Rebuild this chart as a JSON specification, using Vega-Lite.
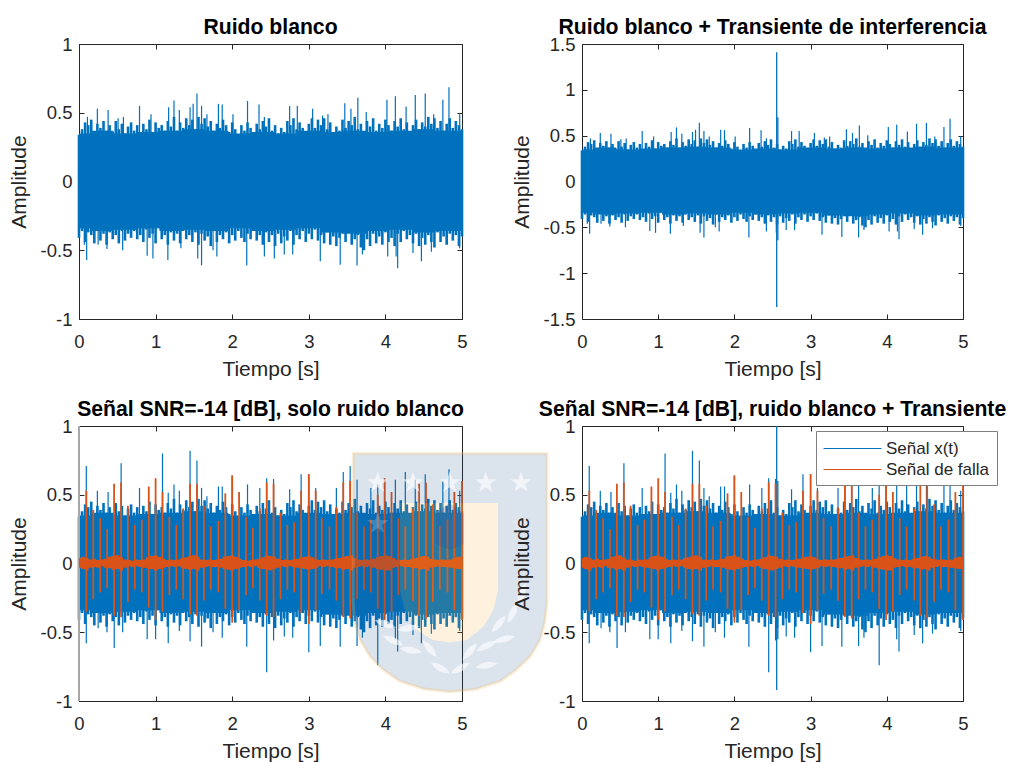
{
"$schema":"https://vega.github.io/schema/vega-lite/v6.json",
"padding":{"left":8,"top":16,"right":5,"bottom":5},
"background":"white",
"bounds":"flush",
"columns":2,
"spacing":{"column":120,"row":107},
"config":{"font":"Liberation Sans","view":{"stroke":null},"axis":{"grid":false,"domainColor":"#262626","tickColor":"#262626","labelColor":"#262626","titleColor":"#262626","labelFontSize":18.5,"titleFontSize":21,"titleFontWeight":"normal","tickSize":-5,"labelFlush":false,"labelBound":false,"labelOverlap":false,"zindex":1},"title":{"fontSize":21.2,"fontWeight":"bold","color":"#000000","offset":-3}},
"datasets":{
"nucleo":[{"t":0,"hi":0.35,"lo":-0.34},{"t":0.3,"hi":0.37,"lo":-0.36},{"t":0.6,"hi":0.35,"lo":-0.35},{"t":0.9,"hi":0.36,"lo":-0.34},{"t":1.2,"hi":0.37,"lo":-0.36},{"t":1.5,"hi":0.38,"lo":-0.35},{"t":1.8,"hi":0.37,"lo":-0.36},{"t":2.1,"hi":0.35,"lo":-0.34},{"t":2.4,"hi":0.36,"lo":-0.36},{"t":2.7,"hi":0.35,"lo":-0.35},{"t":3,"hi":0.37,"lo":-0.34},{"t":3.3,"hi":0.36,"lo":-0.37},{"t":3.6,"hi":0.37,"lo":-0.38},{"t":3.9,"hi":0.36,"lo":-0.36},{"t":4.2,"hi":0.37,"lo":-0.35},{"t":4.5,"hi":0.38,"lo":-0.37},{"t":4.8,"hi":0.37,"lo":-0.36},{"t":5,"hi":0.37,"lo":-0.36}],
"banda":[
{"t":0,"hi":0.34,"lo":-0.41},{"t":0.04,"hi":0.38,"lo":-0.36},{"t":0.08,"hi":0.43,"lo":-0.44},{"t":0.12,"hi":0.41,"lo":-0.37},{"t":0.16,"hi":0.45,"lo":-0.39},{"t":0.2,"hi":0.36,"lo":-0.45},{"t":0.24,"hi":0.42,"lo":-0.35},{"t":0.28,"hi":0.39,"lo":-0.43},{"t":0.32,"hi":0.44,"lo":-0.38},{"t":0.36,"hi":0.37,"lo":-0.46},{"t":0.4,"hi":0.41,"lo":-0.37},{"t":0.44,"hi":0.36,"lo":-0.42},
{"t":0.48,"hi":0.44,"lo":-0.39},{"t":0.52,"hi":0.38,"lo":-0.45},{"t":0.56,"hi":0.42,"lo":-0.36},{"t":0.6,"hi":0.35,"lo":-0.43},{"t":0.64,"hi":0.4,"lo":-0.38},{"t":0.68,"hi":0.43,"lo":-0.41},{"t":0.72,"hi":0.37,"lo":-0.36},{"t":0.76,"hi":0.41,"lo":-0.42},{"t":0.8,"hi":0.34,"lo":-0.39},{"t":0.84,"hi":0.42,"lo":-0.44},{"t":0.88,"hi":0.38,"lo":-0.35},{"t":0.92,"hi":0.45,"lo":-0.41},
{"t":0.96,"hi":0.36,"lo":-0.38},{"t":1,"hi":0.43,"lo":-0.45},{"t":1.04,"hi":0.39,"lo":-0.34},{"t":1.08,"hi":0.41,"lo":-0.42},{"t":1.12,"hi":0.37,"lo":-0.39},{"t":1.16,"hi":0.44,"lo":-0.46},{"t":1.2,"hi":0.4,"lo":-0.37},{"t":1.24,"hi":0.47,"lo":-0.43},{"t":1.28,"hi":0.37,"lo":-0.38},{"t":1.32,"hi":0.43,"lo":-0.45},{"t":1.36,"hi":0.39,"lo":-0.36},{"t":1.4,"hi":0.46,"lo":-0.42},
{"t":1.44,"hi":0.41,"lo":-0.39},{"t":1.48,"hi":0.45,"lo":-0.44},{"t":1.52,"hi":0.38,"lo":-0.37},{"t":1.56,"hi":0.47,"lo":-0.46},{"t":1.6,"hi":0.42,"lo":-0.38},{"t":1.64,"hi":0.46,"lo":-0.43},{"t":1.68,"hi":0.4,"lo":-0.4},{"t":1.72,"hi":0.44,"lo":-0.47},{"t":1.76,"hi":0.37,"lo":-0.36},{"t":1.8,"hi":0.42,"lo":-0.44},{"t":1.84,"hi":0.39,"lo":-0.39},{"t":1.88,"hi":0.45,"lo":-0.42},
{"t":1.92,"hi":0.41,"lo":-0.37},{"t":1.96,"hi":0.36,"lo":-0.45},{"t":2,"hi":0.43,"lo":-0.39},{"t":2.04,"hi":0.38,"lo":-0.43},{"t":2.08,"hi":0.34,"lo":-0.36},{"t":2.12,"hi":0.41,"lo":-0.41},{"t":2.16,"hi":0.37,"lo":-0.44},{"t":2.2,"hi":0.43,"lo":-0.38},{"t":2.24,"hi":0.39,"lo":-0.42},{"t":2.28,"hi":0.35,"lo":-0.36},{"t":2.32,"hi":0.42,"lo":-0.43},{"t":2.36,"hi":0.38,"lo":-0.39},
{"t":2.4,"hi":0.44,"lo":-0.46},{"t":2.44,"hi":0.4,"lo":-0.37},{"t":2.48,"hi":0.46,"lo":-0.44},{"t":2.52,"hi":0.37,"lo":-0.39},{"t":2.56,"hi":0.41,"lo":-0.47},{"t":2.6,"hi":0.35,"lo":-0.38},{"t":2.64,"hi":0.39,"lo":-0.45},{"t":2.68,"hi":0.36,"lo":-0.4},{"t":2.72,"hi":0.44,"lo":-0.43},{"t":2.76,"hi":0.41,"lo":-0.36},{"t":2.8,"hi":0.46,"lo":-0.46},{"t":2.84,"hi":0.38,"lo":-0.39},
{"t":2.88,"hi":0.43,"lo":-0.42},{"t":2.92,"hi":0.39,"lo":-0.36},{"t":2.96,"hi":0.35,"lo":-0.44},{"t":3,"hi":0.42,"lo":-0.38},{"t":3.04,"hi":0.46,"lo":-0.42},{"t":3.08,"hi":0.39,"lo":-0.35},{"t":3.12,"hi":0.45,"lo":-0.43},{"t":3.16,"hi":0.41,"lo":-0.39},{"t":3.2,"hi":0.46,"lo":-0.45},{"t":3.24,"hi":0.38,"lo":-0.37},{"t":3.28,"hi":0.43,"lo":-0.46},{"t":3.32,"hi":0.36,"lo":-0.4},
{"t":3.36,"hi":0.4,"lo":-0.47},{"t":3.4,"hi":0.37,"lo":-0.41},{"t":3.44,"hi":0.45,"lo":-0.38},{"t":3.48,"hi":0.39,"lo":-0.44},{"t":3.52,"hi":0.44,"lo":-0.37},{"t":3.56,"hi":0.41,"lo":-0.46},{"t":3.6,"hi":0.47,"lo":-0.42},{"t":3.64,"hi":0.38,"lo":-0.39},{"t":3.68,"hi":0.42,"lo":-0.48},{"t":3.72,"hi":0.36,"lo":-0.5},{"t":3.76,"hi":0.44,"lo":-0.42},{"t":3.8,"hi":0.4,"lo":-0.47},
{"t":3.84,"hi":0.46,"lo":-0.38},{"t":3.88,"hi":0.37,"lo":-0.45},{"t":3.92,"hi":0.42,"lo":-0.4},{"t":3.96,"hi":0.39,"lo":-0.46},{"t":4,"hi":0.45,"lo":-0.37},{"t":4.04,"hi":0.41,"lo":-0.44},{"t":4.08,"hi":0.37,"lo":-0.41},{"t":4.12,"hi":0.44,"lo":-0.47},{"t":4.16,"hi":0.4,"lo":-0.38},{"t":4.2,"hi":0.46,"lo":-0.44},{"t":4.24,"hi":0.38,"lo":-0.36},{"t":4.28,"hi":0.43,"lo":-0.42},
{"t":4.32,"hi":0.36,"lo":-0.39},{"t":4.36,"hi":0.41,"lo":-0.45},{"t":4.4,"hi":0.45,"lo":-0.38},{"t":4.44,"hi":0.38,"lo":-0.47},{"t":4.48,"hi":0.43,"lo":-0.41},{"t":4.52,"hi":0.4,"lo":-0.46},{"t":4.56,"hi":0.47,"lo":-0.39},{"t":4.6,"hi":0.42,"lo":-0.44},{"t":4.64,"hi":0.46,"lo":-0.48},{"t":4.68,"hi":0.39,"lo":-0.37},{"t":4.72,"hi":0.44,"lo":-0.44},{"t":4.76,"hi":0.37,"lo":-0.4},
{"t":4.8,"hi":0.42,"lo":-0.46},{"t":4.84,"hi":0.46,"lo":-0.38},{"t":4.88,"hi":0.39,"lo":-0.43},{"t":4.92,"hi":0.44,"lo":-0.39},{"t":4.96,"hi":0.41,"lo":-0.47},{"t":5,"hi":0.38,"lo":-0.4}],
"picos_ruido":[
{"t":0.07,"hi":0,"lo":-0.46},{"t":0.1,"hi":0,"lo":-0.57},{"t":0.11,"hi":0.47,"lo":0},{"t":0.24,"hi":0.53,"lo":0},{"t":0.25,"hi":0,"lo":-0.46},{"t":0.365,"hi":0,"lo":-0.49},{"t":0.38,"hi":0.52,"lo":0},{"t":0.51,"hi":0.46,"lo":0},{"t":0.57,"hi":0,"lo":-0.5},{"t":0.58,"hi":0.47,"lo":0},{"t":0.79,"hi":0.55,"lo":0},{"t":0.89,"hi":0,"lo":-0.54},{"t":0.94,"hi":0.49,"lo":0},{"t":0.965,"hi":0,"lo":-0.56},{"t":1.16,"hi":0,"lo":-0.57},{"t":1.17,"hi":0.54,"lo":0},{"t":1.24,"hi":0.59,"lo":0},{"t":1.31,"hi":0.52,"lo":0},{"t":1.33,"hi":0,"lo":-0.485},{"t":1.45,"hi":0.54,"lo":0},{"t":1.49,"hi":0.565,"lo":0},{"t":1.54,"hi":0.64,"lo":0},{"t":1.55,"hi":0,"lo":-0.56},{"t":1.6,"hi":0.55,"lo":-0.61},{"t":1.67,"hi":0.49,"lo":0},{"t":1.75,"hi":0,"lo":-0.5},{"t":1.8,"hi":0,"lo":-0.545},{"t":1.82,"hi":0.565,"lo":0},{"t":1.87,"hi":0.56,"lo":0},{"t":2.01,"hi":0.49,"lo":0},{"t":2.19,"hi":0,"lo":-0.61},{"t":2.2,"hi":0.585,"lo":0},{"t":2.35,"hi":0.56,"lo":0},{"t":2.42,"hi":0.47,"lo":-0.545},{"t":2.55,"hi":0,"lo":-0.56},{"t":2.68,"hi":0,"lo":-0.53},{"t":2.75,"hi":0.55,"lo":0},{"t":2.79,"hi":0,"lo":-0.53},{"t":2.85,"hi":0.55,"lo":0},{"t":3.05,"hi":0.53,"lo":0},{"t":3.15,"hi":0,"lo":-0.58},{"t":3.18,"hi":0.48,"lo":0},{"t":3.25,"hi":0.49,"lo":0},{"t":3.41,"hi":0,"lo":-0.605},{"t":3.47,"hi":0.57,"lo":0},{"t":3.55,"hi":0.53,"lo":0},{"t":3.63,"hi":0,"lo":-0.61},{"t":3.64,"hi":0.61,"lo":0},{"t":3.7,"hi":0,"lo":-0.53},{"t":3.75,"hi":0.505,"lo":0},{"t":4.02,"hi":0.595,"lo":0},{"t":4.03,"hi":0,"lo":-0.545},{"t":4.13,"hi":0.62,"lo":0},{"t":4.14,"hi":0,"lo":-0.545},{"t":4.16,"hi":0,"lo":-0.63},{"t":4.27,"hi":0.545,"lo":0},{"t":4.36,"hi":0,"lo":-0.52},{"t":4.39,"hi":0.63,"lo":0},{"t":4.47,"hi":0,"lo":-0.58},{"t":4.52,"hi":0.64,"lo":0},{"t":4.6,"hi":0,"lo":-0.51},{"t":4.63,"hi":0.49,"lo":0},{"t":4.75,"hi":0.595,"lo":0},{"t":4.83,"hi":0.685,"lo":0},{"t":4.97,"hi":0.49,"lo":-0.485}],
"picos_senal":[
{"t":0.095,"hi":0.71,"lo":-0.58},{"t":0.24,"hi":0.53,"lo":0},{"t":0.25,"hi":0,"lo":-0.47},{"t":0.365,"hi":0,"lo":-0.5},{"t":0.38,"hi":0.52,"lo":0},{"t":0.46,"hi":0,"lo":-0.615},{"t":0.55,"hi":0.73,"lo":0},{"t":0.57,"hi":0,"lo":-0.5},{"t":0.79,"hi":0.55,"lo":0},{"t":0.89,"hi":0,"lo":-0.55},{"t":1,"hi":0,"lo":-0.55},{"t":1.09,"hi":0.8,"lo":0},{"t":1.165,"hi":0.515,"lo":-0.58},{"t":1.24,"hi":0.575,"lo":0},{"t":1.31,"hi":0.53,"lo":-0.49},{"t":1.45,"hi":0.82,"lo":-0.565},{"t":1.54,"hi":0.75,"lo":0},{"t":1.6,"hi":0.55,"lo":-0.605},{"t":1.67,"hi":0.49,"lo":0},{"t":1.75,"hi":0,"lo":-0.5},{"t":1.82,"hi":0.56,"lo":0},{"t":1.87,"hi":0.56,"lo":-0.54},{"t":2,"hi":0.64,"lo":0},{"t":2.19,"hi":0,"lo":-0.605},{"t":2.2,"hi":0.575,"lo":0},{"t":2.36,"hi":0.55,"lo":0},{"t":2.45,"hi":0.62,"lo":-0.79},{"t":2.54,"hi":0.615,"lo":-0.56},{"t":2.68,"hi":0,"lo":-0.53},{"t":2.75,"hi":0.54,"lo":0},{"t":2.79,"hi":0,"lo":-0.54},{"t":2.9,"hi":0.65,"lo":0},{"t":3,"hi":0.65,"lo":-0.645},{"t":3.09,"hi":0.55,"lo":0},{"t":3.15,"hi":0,"lo":-0.6},{"t":3.36,"hi":0.55,"lo":0},{"t":3.41,"hi":0,"lo":-0.605},{"t":3.45,"hi":0.665,"lo":0},{"t":3.54,"hi":0.71,"lo":0},{"t":3.63,"hi":0.61,"lo":-0.6},{"t":3.7,"hi":0,"lo":-0.54},{"t":3.81,"hi":0.55,"lo":0},{"t":3.9,"hi":0.575,"lo":-0.74},{"t":3.99,"hi":0.62,"lo":0},{"t":4.13,"hi":0.61,"lo":-0.55},{"t":4.16,"hi":0,"lo":-0.64},{"t":4.26,"hi":0.665,"lo":0},{"t":4.36,"hi":0,"lo":-0.52},{"t":4.39,"hi":0.61,"lo":0},{"t":4.47,"hi":0,"lo":-0.58},{"t":4.52,"hi":0.65,"lo":0},{"t":4.6,"hi":0,"lo":-0.51},{"t":4.75,"hi":0.6,"lo":0},{"t":4.83,"hi":0.685,"lo":0},{"t":4.97,"hi":0.53,"lo":-0.49}],
"inicio":[{"t":0,"hi":1,"lo":-1}],
"transiente2":[{"t":2.555,"hi":1.41,"lo":-1.37},{"t":2.57,"hi":0.7,"lo":-0.64}],
"transiente4":[{"t":2.555,"hi":1,"lo":-0.92},{"t":2.57,"hi":0.6,"lo":-0.55}],
"impulsos":[
{"t":0.096,"hi":0.53,"lo":-0.35},{"t":0.186,"hi":0.39,"lo":-0.26},{"t":0.277,"hi":0.33,"lo":-0.21},{"t":0.367,"hi":0.25,"lo":-0.18},{"t":0.458,"hi":0.58,"lo":-0.38},{"t":0.549,"hi":0.59,"lo":-0.39},{"t":0.638,"hi":0.42,"lo":-0.28},{"t":0.729,"hi":0.28,"lo":-0.19},{"t":0.82,"hi":0.32,"lo":-0.21},{"t":0.911,"hi":0.56,"lo":-0.32},{"t":1,"hi":0.62,"lo":-0.41},{"t":1.09,"hi":0.52,"lo":-0.35},{"t":1.18,"hi":0.34,"lo":-0.23},{"t":1.27,"hi":0.28,"lo":-0.19},{"t":1.36,"hi":0.4,"lo":-0.26},{"t":1.45,"hi":0.58,"lo":-0.37},{"t":1.54,"hi":0.58,"lo":-0.38},{"t":1.63,"hi":0.42,"lo":-0.27},{"t":1.72,"hi":0.27,"lo":-0.19},{"t":1.82,"hi":0.31,"lo":-0.21},{"t":1.91,"hi":0.51,"lo":-0.33},{"t":2,"hi":0.64,"lo":-0.43},{"t":2.09,"hi":0.52,"lo":-0.34},{"t":2.18,"hi":0.34,"lo":-0.23},{"t":2.27,"hi":0.26,"lo":-0.18},{"t":2.36,"hi":0.4,"lo":-0.27},{"t":2.45,"hi":0.59,"lo":-0.38},{"t":2.54,"hi":0.58,"lo":-0.39},{"t":2.63,"hi":0.37,"lo":-0.26},{"t":2.72,"hi":0.28,"lo":-0.19},{"t":2.81,"hi":0.3,"lo":-0.21},{"t":2.9,"hi":0.53,"lo":-0.36},{"t":3,"hi":0.65,"lo":-0.44},{"t":3.09,"hi":0.53,"lo":-0.34},{"t":3.17,"hi":0.33,"lo":-0.22},{"t":3.27,"hi":0.27,"lo":-0.19},{"t":3.36,"hi":0.41,"lo":-0.27},{"t":3.45,"hi":0.59,"lo":-0.39},{"t":3.54,"hi":0.6,"lo":-0.4},{"t":3.63,"hi":0.37,"lo":-0.26},{"t":3.72,"hi":0.27,"lo":-0.19},{"t":3.81,"hi":0.32,"lo":-0.21},{"t":3.9,"hi":0.5,"lo":-0.33},{"t":3.99,"hi":0.62,"lo":-0.41},{"t":4.08,"hi":0.52,"lo":-0.35},{"t":4.17,"hi":0.33,"lo":-0.23},{"t":4.26,"hi":0.27,"lo":-0.19},{"t":4.36,"hi":0.4,"lo":-0.27},{"t":4.44,"hi":0.58,"lo":-0.38},{"t":4.53,"hi":0.59,"lo":-0.4},{"t":4.62,"hi":0.43,"lo":-0.28},{"t":4.71,"hi":0.27,"lo":-0.19},{"t":4.81,"hi":0.32,"lo":-0.21},{"t":4.9,"hi":0.52,"lo":-0.34},{"t":5,"hi":0.6,"lo":-0.41}],
"falla":[
{"t":0,"hi":0.04,"lo":-0.03},{"t":0.05,"hi":0.05,"lo":-0.04},{"t":0.1,"hi":0.04,"lo":-0.05},{"t":0.15,"hi":0.03,"lo":-0.03},{"t":0.2,"hi":0.035,"lo":-0.025},{"t":0.25,"hi":0.025,"lo":-0.03},{"t":0.3,"hi":0.03,"lo":-0.02},{"t":0.35,"hi":0.035,"lo":-0.03},{"t":0.4,"hi":0.05,"lo":-0.035},{"t":0.45,"hi":0.055,"lo":-0.045},{"t":0.5,"hi":0.06,"lo":-0.04},{"t":0.55,"hi":0.045,"lo":-0.05},{"t":0.6,"hi":0.03,"lo":-0.03},{"t":0.65,"hi":0.025,"lo":-0.02},{"t":0.7,"hi":0.02,"lo":-0.025},{"t":0.75,"hi":0.03,"lo":-0.02},{"t":0.8,"hi":0.025,"lo":-0.025},{"t":0.85,"hi":0.03,"lo":-0.03},{"t":0.9,"hi":0.045,"lo":-0.035},{"t":0.95,"hi":0.055,"lo":-0.04},{"t":1,"hi":0.06,"lo":-0.05},{"t":1.05,"hi":0.05,"lo":-0.04},{"t":1.1,"hi":0.035,"lo":-0.03},{"t":1.15,"hi":0.025,"lo":-0.025},{"t":1.2,"hi":0.03,"lo":-0.02},{"t":1.25,"hi":0.025,"lo":-0.025},{"t":1.3,"hi":0.03,"lo":-0.02},{"t":1.35,"hi":0.04,"lo":-0.03},{"t":1.4,"hi":0.045,"lo":-0.04},{"t":1.45,"hi":0.055,"lo":-0.045},{"t":1.5,"hi":0.06,"lo":-0.04},{"t":1.55,"hi":0.05,"lo":-0.05},{"t":1.6,"hi":0.03,"lo":-0.03},{"t":1.65,"hi":0.025,"lo":-0.025},{"t":1.7,"hi":0.03,"lo":-0.02},{"t":1.75,"hi":0.025,"lo":-0.025},{"t":1.8,"hi":0.03,"lo":-0.025},{"t":1.85,"hi":0.035,"lo":-0.03},{"t":1.9,"hi":0.05,"lo":-0.04},{"t":1.95,"hi":0.055,"lo":-0.045},{"t":2,"hi":0.06,"lo":-0.05},{"t":2.05,"hi":0.05,"lo":-0.04},{"t":2.1,"hi":0.035,"lo":-0.03},{"t":2.15,"hi":0.025,"lo":-0.025},{"t":2.2,"hi":0.02,"lo":-0.02},{"t":2.25,"hi":0.025,"lo":-0.025},{"t":2.3,"hi":0.03,"lo":-0.02},{"t":2.35,"hi":0.035,"lo":-0.03},{"t":2.4,"hi":0.045,"lo":-0.04},{"t":2.45,"hi":0.06,"lo":-0.045},
{"t":2.5,"hi":0.055,"lo":-0.05},{"t":2.55,"hi":0.05,"lo":-0.04},{"t":2.6,"hi":0.035,"lo":-0.03},{"t":2.65,"hi":0.025,"lo":-0.02},{"t":2.7,"hi":0.03,"lo":-0.025},{"t":2.75,"hi":0.025,"lo":-0.02},{"t":2.8,"hi":0.03,"lo":-0.025},{"t":2.85,"hi":0.035,"lo":-0.03},{"t":2.9,"hi":0.045,"lo":-0.035},{"t":2.95,"hi":0.05,"lo":-0.04},{"t":3,"hi":0.055,"lo":-0.045},{"t":3.05,"hi":0.045,"lo":-0.04},{"t":3.1,"hi":0.03,"lo":-0.03},{"t":3.15,"hi":0.025,"lo":-0.02},{"t":3.2,"hi":0.03,"lo":-0.025},{"t":3.25,"hi":0.025,"lo":-0.02},{"t":3.3,"hi":0.03,"lo":-0.025},{"t":3.35,"hi":0.035,"lo":-0.03},{"t":3.4,"hi":0.04,"lo":-0.035},{"t":3.45,"hi":0.05,"lo":-0.045},{"t":3.5,"hi":0.055,"lo":-0.04},{"t":3.55,"hi":0.06,"lo":-0.05},{"t":3.6,"hi":0.04,"lo":-0.03},{"t":3.65,"hi":0.03,"lo":-0.025},{"t":3.7,"hi":0.025,"lo":-0.02},{"t":3.75,"hi":0.03,"lo":-0.025},{"t":3.8,"hi":0.025,"lo":-0.02},{"t":3.85,"hi":0.035,"lo":-0.03},{"t":3.9,"hi":0.045,"lo":-0.04},{"t":3.95,"hi":0.055,"lo":-0.045},{"t":4,"hi":0.06,"lo":-0.05},{"t":4.05,"hi":0.055,"lo":-0.05},{"t":4.1,"hi":0.04,"lo":-0.03},{"t":4.15,"hi":0.03,"lo":-0.025},{"t":4.2,"hi":0.025,"lo":-0.02},{"t":4.25,"hi":0.03,"lo":-0.025},{"t":4.3,"hi":0.025,"lo":-0.025},{"t":4.35,"hi":0.035,"lo":-0.03},{"t":4.4,"hi":0.04,"lo":-0.035},{"t":4.45,"hi":0.05,"lo":-0.045},{"t":4.5,"hi":0.055,"lo":-0.04},{"t":4.55,"hi":0.05,"lo":-0.05},{"t":4.6,"hi":0.035,"lo":-0.03},{"t":4.65,"hi":0.03,"lo":-0.025},{"t":4.7,"hi":0.025,"lo":-0.02},{"t":4.75,"hi":0.03,"lo":-0.025},{"t":4.8,"hi":0.025,"lo":-0.025},{"t":4.85,"hi":0.03,"lo":-0.03},{"t":4.9,"hi":0.04,"lo":-0.035},{"t":4.95,"hi":0.05,"lo":-0.04},{"t":5,"hi":0.05,"lo":-0.04}],
"escudo":[
{"p":"a","t":3.58,"hi":0.8,"lo":-0.29},{"p":"a","t":3.6,"hi":0.8,"lo":-0.435},{"p":"a","t":3.67,"hi":0.8,"lo":-0.556},{"p":"a","t":3.8,"hi":0.8,"lo":-0.676},{"p":"a","t":3.97,"hi":0.8,"lo":-0.773},{"p":"a","t":4.19,"hi":0.8,"lo":-0.857},
{"p":"b","t":4.19,"hi":0.8,"lo":0.44},{"p":"b","t":5.47,"hi":0.8,"lo":0.44},
{"p":"c","t":4.19,"hi":-0.193,"lo":-0.857},{"p":"c","t":4.25,"hi":-0.338,"lo":-0.868},{"p":"c","t":4.41,"hi":-0.483,"lo":-0.897},{"p":"c","t":4.5,"hi":-0.515,"lo":-0.913},{"p":"c","t":4.62,"hi":-0.556,"lo":-0.92},{"p":"c","t":4.84,"hi":-0.575,"lo":-0.932},{"p":"c","t":5.06,"hi":-0.556,"lo":-0.925},{"p":"c","t":5.19,"hi":-0.5,"lo":-0.913},{"p":"c","t":5.28,"hi":-0.459,"lo":-0.895},{"p":"c","t":5.41,"hi":-0.338,"lo":-0.873},{"p":"c","t":5.47,"hi":-0.193,"lo":-0.862},
{"p":"d","t":5.47,"hi":0.8,"lo":-0.862},{"p":"d","t":5.5,"hi":0.8,"lo":-0.857},{"p":"d","t":5.71,"hi":0.8,"lo":-0.773},{"p":"d","t":5.89,"hi":0.8,"lo":-0.676},{"p":"d","t":6.02,"hi":0.8,"lo":-0.556},{"p":"d","t":6.08,"hi":0.8,"lo":-0.435},{"p":"d","t":6.11,"hi":0.8,"lo":-0.29}],
"borde":[{"n":1,"t":3.58,"hi":-0.29},{"n":2,"t":3.58,"hi":0.8},{"n":3,"t":6.11,"hi":0.8},{"n":4,"t":6.11,"hi":-0.29},{"n":5,"t":6.08,"hi":-0.435},{"n":6,"t":6.02,"hi":-0.556},{"n":7,"t":5.89,"hi":-0.676},{"n":8,"t":5.71,"hi":-0.773},{"n":9,"t":5.5,"hi":-0.857},{"n":10,"t":5.19,"hi":-0.913},{"n":11,"t":4.84,"hi":-0.932},{"n":12,"t":4.5,"hi":-0.913},{"n":13,"t":4.19,"hi":-0.857},{"n":14,"t":3.97,"hi":-0.773},{"n":15,"t":3.8,"hi":-0.676},{"n":16,"t":3.67,"hi":-0.556},{"n":17,"t":3.6,"hi":-0.435},{"n":18,"t":3.58,"hi":-0.29}],
"escudo_u":[{"t":4.19,"hi":0.44,"lo":-0.193},{"t":4.25,"hi":0.44,"lo":-0.338},{"t":4.41,"hi":0.44,"lo":-0.483},{"t":4.62,"hi":0.44,"lo":-0.556},{"t":4.84,"hi":0.44,"lo":-0.575},{"t":5.06,"hi":0.44,"lo":-0.556},{"t":5.28,"hi":0.44,"lo":-0.459},{"t":5.41,"hi":0.44,"lo":-0.338},{"t":5.47,"hi":0.44,"lo":-0.193}],
"llama":[{"t":4.66,"hi":0.36,"lo":0.14},{"t":4.74,"hi":0.4,"lo":0.12},{"t":4.84,"hi":0.44,"lo":0.1},{"t":4.94,"hi":0.4,"lo":0.12},{"t":5.02,"hi":0.36,"lo":0.14}],
"estrellas":[{"t":3.9,"hi":0.587},{"t":4.36,"hi":0.587},{"t":4.84,"hi":0.587},{"t":5.31,"hi":0.587},{"t":5.77,"hi":0.587}],
"estrellas_b":[{"t":3.9,"hi":0.29},{"t":5.77,"hi":0.29}],
"hojas":[{"t":4.0,"hi":-0.44,"a":20},{"t":4.3,"hi":-0.47,"a":-10},{"t":4.1,"hi":-0.56,"a":25},{"t":4.33,"hi":-0.63,"a":10},{"t":4.58,"hi":-0.62,"a":50},{"t":4.72,"hi":-0.76,"a":30},{"t":4.98,"hi":-0.76,"a":-30},{"t":5.1,"hi":-0.64,"a":-50},{"t":5.32,"hi":-0.6,"a":-25},{"t":5.55,"hi":-0.55,"a":-15},{"t":5.48,"hi":-0.44,"a":-50},{"t":5.66,"hi":-0.36,"a":-65},{"t":5.78,"hi":-0.22,"a":-70},{"t":5.32,"hi":-0.74,"a":-10}]
},
"concat":[
{"title":"Ruido blanco","width":383,"height":275,
 "encoding":{"x":{"field":"t","type":"quantitative","scale":{"domain":[0,5]},"axis":null},"y":{"field":"hi","type":"quantitative","scale":{"domain":[-1,1]},"axis":null}},
 "layer":[
  {"data":{"name":"nucleo"},"mark":{"type":"area","interpolate":"step","color":"#0072BD"},"encoding":{"y2":{"field":"lo"},
    "x":{"field":"t","type":"quantitative","scale":{"domain":[0,5]},"axis":{"orient":"bottom","title":"Tiempo [s]","values":[0,1,2,3,4,5],"labelPadding":18,"titlePadding":8,"labelExpr":"datum.value+''"}},
    "y":{"field":"hi","type":"quantitative","scale":{"domain":[-1,1]},"axis":{"orient":"left","title":"Amplitude","values":[-1,-0.5,0,0.5,1],"labelPadding":12,"titlePadding":11,"labelExpr":"datum.value+''"}}}},
  {"data":{"name":"banda"},"mark":{"type":"rule","color":"#0072BD","strokeWidth":2.6},"encoding":{"y2":{"field":"lo"}}},
  {"data":{"name":"picos_ruido"},"mark":{"type":"rule","color":"#0072BD","strokeWidth":1.2},"encoding":{"y2":{"field":"lo"}}},
  {"data":{"name":"nucleo"},"mark":{"type":"rule","opacity":0},"encoding":{"x":{"field":"t","type":"quantitative","scale":{"domain":[0,5]},"axis":{"orient":"top","title":null,"labels":false,"values":[0,1,2,3,4,5]}},"y":{"field":"hi","type":"quantitative","scale":{"domain":[-1,1]},"axis":{"orient":"right","title":null,"labels":false,"values":[-1,-0.5,0,0.5,1]}}}}
 ]},
{"title":"Ruido blanco + Transiente de interferencia","width":381,"height":275,
 "encoding":{"x":{"field":"t","type":"quantitative","scale":{"domain":[0,5]},"axis":null},"y":{"field":"hi","type":"quantitative","scale":{"domain":[-1.5,1.5]},"axis":null}},
 "layer":[
  {"data":{"name":"nucleo"},"mark":{"type":"area","interpolate":"step","color":"#0072BD"},"encoding":{"y2":{"field":"lo"},
    "x":{"field":"t","type":"quantitative","scale":{"domain":[0,5]},"axis":{"orient":"bottom","title":"Tiempo [s]","values":[0,1,2,3,4,5],"labelPadding":18,"titlePadding":8,"labelExpr":"datum.value+''"}},
    "y":{"field":"hi","type":"quantitative","scale":{"domain":[-1.5,1.5]},"axis":{"orient":"left","title":"Amplitude","values":[-1.5,-1,-0.5,0,0.5,1,1.5],"labelPadding":12,"titlePadding":11,"labelExpr":"datum.value+''"}}}},
  {"data":{"name":"banda"},"mark":{"type":"rule","color":"#0072BD","strokeWidth":2.6},"encoding":{"y2":{"field":"lo"}}},
  {"data":{"name":"picos_ruido"},"mark":{"type":"rule","color":"#0072BD","strokeWidth":1.2},"encoding":{"y2":{"field":"lo"}}},
  {"data":{"name":"transiente2"},"mark":{"type":"rule","color":"#0072BD","strokeWidth":1.3},"encoding":{"y2":{"field":"lo"}}},
  {"data":{"name":"nucleo"},"mark":{"type":"rule","opacity":0},"encoding":{"x":{"field":"t","type":"quantitative","scale":{"domain":[0,5]},"axis":{"orient":"top","title":null,"labels":false,"values":[0,1,2,3,4,5]}},"y":{"field":"hi","type":"quantitative","scale":{"domain":[-1.5,1.5]},"axis":{"orient":"right","title":null,"labels":false,"values":[-1.5,-1,-0.5,0,0.5,1,1.5]}}}}
 ]},
{"title":"Señal SNR=-14 [dB], solo ruido blanco","width":383,"height":275,
 "encoding":{"x":{"field":"t","type":"quantitative","scale":{"domain":[0,5]},"axis":null},"y":{"field":"hi","type":"quantitative","scale":{"domain":[-1,1]},"axis":null}},
 "layer":[
  {"data":{"name":"nucleo"},"mark":{"type":"area","interpolate":"step","color":"#0072BD"},"encoding":{"y2":{"field":"lo"},
    "x":{"field":"t","type":"quantitative","scale":{"domain":[0,5]},"axis":{"orient":"bottom","title":"Tiempo [s]","values":[0,1,2,3,4,5],"labelPadding":18,"titlePadding":8,"labelExpr":"datum.value+''"}},
    "y":{"field":"hi","type":"quantitative","scale":{"domain":[-1,1]},"axis":{"orient":"left","title":"Amplitude","values":[-1,-0.5,0,0.5,1],"labelPadding":12,"titlePadding":11,"labelExpr":"datum.value+''"}}}},
  {"data":{"name":"banda"},"mark":{"type":"rule","color":"#0072BD","strokeWidth":2.6},"encoding":{"y2":{"field":"lo"}}},
  {"data":{"name":"picos_senal"},"mark":{"type":"rule","color":"#0072BD","strokeWidth":1.2},"encoding":{"y2":{"field":"lo"}}},
  {"data":{"name":"inicio"},"mark":{"type":"rule","color":"#a8a8a8","strokeWidth":2},"encoding":{"y2":{"field":"lo"}}},
  {"data":{"name":"impulsos"},"mark":{"type":"rule","color":"#D95319","strokeWidth":1.8},"encoding":{"y2":{"field":"lo"}}},
  {"data":{"name":"falla"},"mark":{"type":"area","interpolate":"step","color":"#D95319"},"encoding":{"y2":{"field":"lo"}}},
  {"data":{"name":"nucleo"},"mark":{"type":"rule","opacity":0},"encoding":{"x":{"field":"t","type":"quantitative","scale":{"domain":[0,5]},"axis":{"orient":"top","title":null,"labels":false,"values":[0,1,2,3,4,5]}},"y":{"field":"hi","type":"quantitative","scale":{"domain":[-1,1]},"axis":{"orient":"right","title":null,"labels":false,"values":[-1,-0.5,0,0.5,1]}}}},
  {"data":{"name":"escudo"},"mark":{"type":"area","fill":"#1f4e8c","fillOpacity":0.16},"encoding":{"y2":{"field":"lo"},"detail":{"field":"p"}}},
  {"data":{"name":"borde"},"mark":{"type":"line","stroke":"#f5b95f","strokeOpacity":0.25,"strokeWidth":3},"encoding":{"order":{"field":"n"}}},
  {"data":{"name":"escudo_u"},"mark":{"type":"area","fill":"#f5a623","fillOpacity":0.15},"encoding":{"y2":{"field":"lo"}}},
  {"data":{"name":"llama"},"mark":{"type":"area","fill":"#2b3f9e","fillOpacity":0.2},"encoding":{"y2":{"field":"lo"}}},
  {"data":{"name":"estrellas"},"mark":{"type":"point","shape":"M0,-1L0.24,-0.32L0.95,-0.31L0.38,0.12L0.59,0.81L0,0.4L-0.59,0.81L-0.38,0.12L-0.95,-0.31L-0.24,-0.32Z","filled":true,"color":"#ffffff","opacity":0.6,"size":500}},
  {"data":{"name":"estrellas_b"},"mark":{"type":"point","shape":"M0,-1L0.24,-0.32L0.95,-0.31L0.38,0.12L0.59,0.81L0,0.4L-0.59,0.81L-0.38,0.12L-0.95,-0.31L-0.24,-0.32Z","filled":true,"color":"#ffffff","opacity":0.2,"size":500}},
  {"data":{"name":"hojas"},"mark":{"type":"point","shape":"M-1,0Q0,-0.6,1,0Q0,0.6,-1,0Z","filled":true,"color":"#ffffff","opacity":0.6,"size":500},"encoding":{"angle":{"field":"a","type":"quantitative","scale":null}}}
 ]},
{"title":"Señal SNR=-14 [dB], ruido blanco + Transiente","width":381,"height":275,
 "encoding":{"x":{"field":"t","type":"quantitative","scale":{"domain":[0,5]},"axis":null},"y":{"field":"hi","type":"quantitative","scale":{"domain":[-1,1]},"axis":null}},
 "layer":[
  {"data":{"name":"nucleo"},"mark":{"type":"area","interpolate":"step","color":"#0072BD"},"encoding":{"y2":{"field":"lo"},
    "x":{"field":"t","type":"quantitative","scale":{"domain":[0,5]},"axis":{"orient":"bottom","title":"Tiempo [s]","values":[0,1,2,3,4,5],"labelPadding":18,"titlePadding":8,"labelExpr":"datum.value+''"}},
    "y":{"field":"hi","type":"quantitative","scale":{"domain":[-1,1]},"axis":{"orient":"left","title":"Amplitude","values":[-1,-0.5,0,0.5,1],"labelPadding":12,"titlePadding":11,"labelExpr":"datum.value+''"}}}},
  {"data":{"name":"banda"},"mark":{"type":"rule","color":"#0072BD","strokeWidth":2.6},"encoding":{"y2":{"field":"lo"}}},
  {"data":{"name":"picos_senal"},"mark":{"type":"rule","strokeWidth":1.2},"encoding":{"y2":{"field":"lo"},"color":{"datum":"Señal x(t)","scale":{"domain":["Señal x(t)","Señal de falla"],"range":["#0072BD","#D95319"]},"legend":{"title":null,"orient":"none","legendX":737,"legendY":387,"fillColor":"white","strokeColor":"#7f7f7f","padding":7,"labelFontSize":17,"labelColor":"#262626","symbolType":"M-1,0H4.8","symbolSize":400,"symbolStrokeWidth":1,"labelOffset":42,"rowPadding":2,"zindex":2,"encode":{"symbols":{"update":{"stroke":{"signal":"datum.value=='Señal x(t)'?'#0072BD':'#D95319'"}}}}}}}},
  {"data":{"name":"transiente4"},"mark":{"type":"rule","strokeWidth":1.3},"encoding":{"y2":{"field":"lo"},"color":{"datum":"Señal x(t)"}}},
  {"data":{"name":"impulsos"},"mark":{"type":"rule","strokeWidth":1.8},"encoding":{"y2":{"field":"lo"},"color":{"datum":"Señal de falla"}}},
  {"data":{"name":"falla"},"mark":{"type":"area","interpolate":"step","color":"#D95319"},"encoding":{"y2":{"field":"lo"}}},
  {"data":{"name":"nucleo"},"mark":{"type":"rule","opacity":0},"encoding":{"x":{"field":"t","type":"quantitative","scale":{"domain":[0,5]},"axis":{"orient":"top","title":null,"labels":false,"values":[0,1,2,3,4,5]}},"y":{"field":"hi","type":"quantitative","scale":{"domain":[-1,1]},"axis":{"orient":"right","title":null,"labels":false,"values":[-1,-0.5,0,0.5,1]}}}}
 ]}
]}
